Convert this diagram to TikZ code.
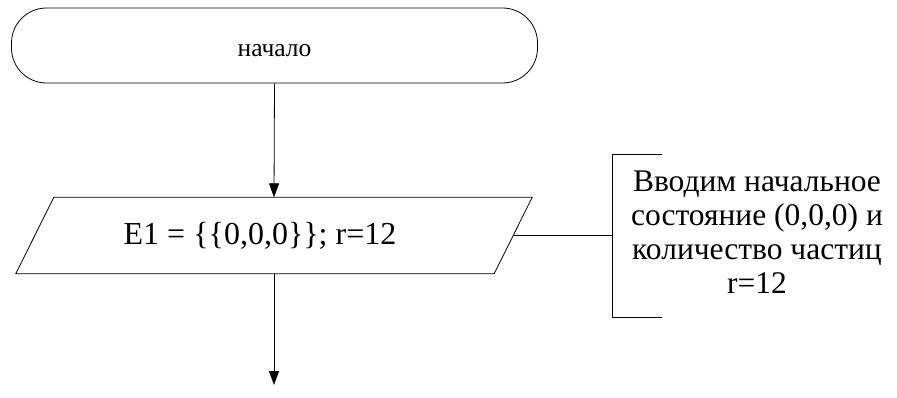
\documentclass[tikz,border=0pt]{standalone}
\usepackage{fontspec}
\setmainfont{Liberation Serif}
\usetikzlibrary{arrows.meta}
\begin{document}
\begin{tikzpicture}[x=1pt,y=1pt,
  line/.style={draw=black, line width=0.8pt},
  flow/.style={line, -{Triangle[width=10pt,length=14pt]}},
  terminal/.style={line, rounded corners=35pt, minimum width=526pt, minimum height=75pt},
  iobox/.style={minimum width=478pt, minimum height=76pt, inner sep=0pt},
  termtext/.style={font=\fontsize{25.5}{30}\selectfont},
  iotext/.style={font=\fontsize{32}{36}\selectfont},
  notetext/.style={align=center, inner sep=0pt, font=\fontsize{31.5}{34}\selectfont}]
  \useasboundingbox (0,0) rectangle (897,397);

  % start terminator
  \node[terminal] (start) at (274.5,351.5) {};
  \node[termtext] (starttext) at ([yshift=-5pt]start.center) {начало};

  % input block (parallelogram drawn around the node)
  \node[iobox] (inp) at (274,161.5) {};
  \draw[line] ([xshift=19pt]inp.north west) -- ([xshift=19pt]inp.north east)
    -- ([xshift=-19pt]inp.south east) -- ([xshift=-19pt]inp.south west) -- cycle;
  \node[iotext] (inptext) at ([xshift=-14pt]inp.center) {E1 = \{\{0,0,0\}\}; r=12};

  % comment bracket with its text
  \coordinate (brk) at (612.5,161.5);
  \draw[line] ([shift={(49pt,81.5pt)}]brk) -- ([yshift=81.5pt]brk)
    -- ([yshift=-81.5pt]brk) -- ([shift={(49pt,-81.5pt)}]brk);
  \node[notetext] (note) at (757,164.5)
    {Вводим начальное\\состояние (0,0,0) и\\количество частиц\\r=12};
  \draw[line] (inp.east) -- (brk);

  % flow arrows
  \coordinate (next) at (274,12);
  \draw[flow] (start.south) -- (inp.north);
  \draw[flow] (inp.south) -- (next);
\end{tikzpicture}
\end{document}
